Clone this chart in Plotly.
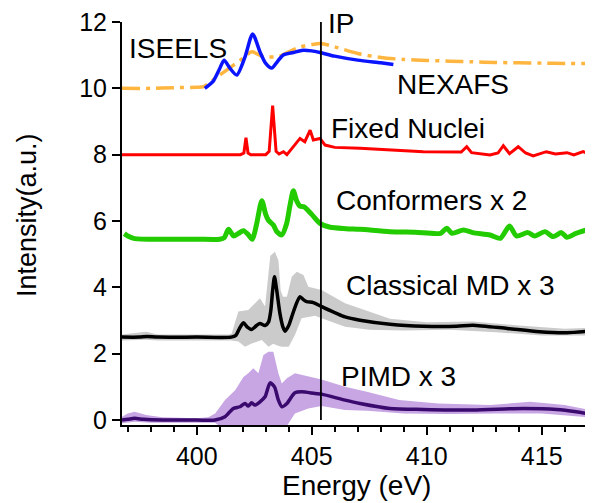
import plotly.graph_objects as go

# ---------------- data ----------------
iseels_E = [400.35, 400.7, 401.0, 401.19, 401.45, 401.74, 402.1, 402.43, 402.75, 403.0, 403.26,
            403.5, 403.75, 404.2, 404.62, 405.0, 405.36, 406.0, 407.0, 408.0, 408.55]
iseels_v = [10.0, 10.2, 10.6, 10.85, 10.6, 10.4, 10.95, 11.64, 11.1, 10.75, 10.61,
            10.8, 11.0, 11.08, 11.15, 11.13, 11.08, 10.97, 10.85, 10.77, 10.72]

nexafs_E = [396.75, 398, 399, 400.0, 400.3, 400.8, 401.3, 401.9, 402.4, 402.9, 403.6, 404.0, 404.5,
            405.0, 405.4, 406.0, 407.0, 408.0, 409.0, 410.0, 411.0, 412.0, 413.0, 414.0, 415.0, 416.0, 417.1]
nexafs_v = [10.0, 10.0, 10.02, 10.03, 10.05, 10.3, 10.55, 10.85, 11.1, 10.95, 10.97, 11.1, 11.25,
            11.32, 11.35, 11.25, 11.05, 10.93, 10.87, 10.84, 10.82, 10.8, 10.78, 10.77, 10.76, 10.75, 10.75]

fixed_E = [396.75, 401.9, 402.05, 402.14, 402.23, 402.35, 403.0, 403.15, 403.3, 403.45, 403.58, 403.77,
           403.92, 404.1, 404.3, 404.49, 404.7, 404.93, 405.07, 405.36, 405.58, 406.0, 407.1, 408.5,
           409.85, 411.5, 411.74, 411.95, 412.75, 413.1, 413.33, 413.6, 413.98, 414.3, 414.63, 415.2,
           415.6, 416.1, 416.4, 416.8, 417.1]
fixed_v = [8.0, 8.0, 8.05, 8.51, 8.05, 8.0, 8.0, 8.1, 9.48, 8.1, 8.02, 8.09,
           8.0, 8.15, 8.35, 8.49, 8.39, 8.74, 8.44, 8.49, 8.29, 8.22, 8.19, 8.14,
           8.09, 8.08, 8.24, 8.06, 7.99, 8.05, 8.27, 8.03, 8.24, 8.05, 7.96, 8.09,
           8.02, 8.06, 7.99, 8.09, 8.02]

conf_E = [396.85, 397.0, 397.3, 398.5, 400.0, 401.0, 401.2, 401.38, 401.6, 401.8, 402.03, 402.25,
          402.42, 402.6, 402.83, 403.0, 403.11, 403.33, 403.48, 403.7, 403.9, 404.05, 404.2, 404.35,
          404.49, 404.66, 405.0, 405.36, 405.8, 406.5, 407.1, 408.4, 409.5, 410.6, 410.87, 411.1,
          411.6, 412.0, 412.75, 413.2, 413.6, 413.9, 414.4, 414.7, 415.14, 415.5, 415.86, 416.09,
          416.5, 417.03]
conf_v = [5.62, 5.55, 5.47, 5.45, 5.45, 5.45, 5.5, 5.75, 5.55, 5.62, 5.71, 5.58,
          5.45, 5.9, 6.61, 6.2, 6.03, 5.88, 5.68, 5.58, 5.9, 6.45, 6.91, 6.6,
          6.45, 6.43, 6.2, 5.93, 5.81, 5.77, 5.75, 5.68, 5.66, 5.63, 5.78, 5.63,
          5.73, 5.65, 5.58, 5.48, 5.85, 5.55, 5.65, 5.55, 5.68, 5.53, 5.65, 5.51,
          5.63, 5.75]

cmd_E = [396.75, 397.5, 397.83, 398.3, 400.0, 401.5, 401.7, 401.85, 402.03, 402.2, 402.39, 402.6,
         402.75, 402.97, 403.12, 403.22, 403.3, 403.38, 403.47, 403.62, 403.75, 403.84, 404.0, 404.13,
         404.3, 404.49, 404.65, 404.78, 405.07, 405.43, 406.45, 407.1, 408.4, 409.85, 411.3, 412.0,
         413.5, 414.9, 416.1, 417.1]
cmd_v = [2.5, 2.5, 2.52, 2.5, 2.5, 2.5, 2.55, 2.75, 2.93, 2.8, 2.73, 2.85,
         2.91, 2.85, 2.95, 3.3, 3.9, 4.32, 3.95, 3.2, 2.8, 2.68, 2.85, 3.11,
         3.45, 3.72, 3.62, 3.57, 3.54, 3.42, 3.11, 3.01, 2.89, 2.83, 2.83, 2.86,
         2.76, 2.66, 2.63, 2.68]

cmd_up_E = [396.75, 397.3, 397.8, 398.3, 401.4, 401.52, 401.81, 402.24, 402.61, 402.75, 402.97, 403.12,
            403.2, 403.4, 403.55, 403.65, 403.75, 403.92, 404.13, 404.35, 404.64, 404.85, 405.43, 406.45,
            407.1, 408.4, 410.0, 412.0, 414.0, 416.0, 417.1]
cmd_up_v = [2.58, 2.62, 2.66, 2.58, 2.58, 2.61, 3.27, 3.32, 3.57, 3.67, 3.42, 4.5,
            4.95, 5.07, 4.82, 3.9, 3.72, 3.72, 4.32, 4.47, 4.37, 4.02, 3.92, 3.52,
            3.37, 3.05, 2.95, 2.97, 2.85, 2.75, 2.78]
cmd_lo_E = [396.75, 397.8, 398.3, 401.5, 401.81, 402.1, 402.39, 402.83, 403.12, 403.33, 403.5, 403.7,
            404.0, 404.27, 404.56, 405.14, 405.43, 406.45, 407.5, 409.0, 411.0, 413.0, 415.0, 417.1]
cmd_lo_v = [2.4, 2.42, 2.4, 2.4, 2.37, 2.21, 2.31, 2.41, 2.21, 2.3, 2.25, 2.21,
            2.21, 2.56, 3.07, 3.14, 3.07, 2.81, 2.72, 2.7, 2.72, 2.65, 2.55, 2.55]

pimd_E = [396.75, 397.0, 397.3, 397.7, 398.5, 400.0, 400.8, 401.23, 401.59, 401.88, 402.1, 402.24,
          402.39, 402.53, 402.75, 402.97, 403.19, 403.38, 403.55, 403.7, 403.92, 404.27, 404.56,
          405.14, 405.43, 406.45, 407.1, 408.4, 409.85, 412.0, 414.2, 415.65, 416.5, 417.1]
pimd_v = [0.0, 0.02, 0.05, 0.02, 0.0, 0.0, 0.0, 0.1, 0.35, 0.4, 0.5, 0.42,
          0.52, 0.45, 0.55, 0.7, 1.12, 1.0, 0.6, 0.4, 0.5, 0.82, 0.85,
          0.8, 0.78, 0.6, 0.5, 0.35, 0.32, 0.3, 0.35, 0.32, 0.25, 0.18]

pimd_up_E = [396.75, 397.0, 397.3, 397.8, 398.5, 400.0, 400.5, 400.8, 401.23, 401.67, 402.03, 402.24,
             402.46, 402.68, 402.9, 403.12, 403.33, 403.55, 403.7, 403.92, 404.27, 404.85, 405.43,
             406.45, 407.4, 408.8, 410.5, 412.75, 414.5, 416.0, 417.1]
pimd_up_v = [0.1, 0.2, 0.25, 0.15, 0.08, 0.05, 0.08, 0.2, 0.6, 0.9, 1.3, 1.41,
             1.56, 1.41, 1.96, 2.06, 2.06, 1.41, 1.1, 1.26, 1.41, 1.31, 1.22,
             1.0, 0.85, 0.6, 0.5, 0.45, 0.55, 0.45, 0.3]
pimd_lo_E = [396.75, 397.3, 398.0, 400.0, 400.8, 401.0, 403.9, 404.27, 404.85, 405.43, 406.45, 407.4,
             409.0, 411.0, 413.0, 415.0, 417.1]
pimd_lo_v = [-0.1, -0.05, -0.08, -0.08, -0.08, -0.2, -0.2, 0.2, 0.35, 0.42, 0.3, 0.28,
             0.2, 0.18, 0.2, 0.2, 0.08]

ip_energy = 405.4
y_ticks = [0, 2, 4, 6, 8, 10, 12]
x_ticks = [400, 405, 410, 415]

labels = [("ISEELS", 396.95, 11.21), ("NEXAFS", 408.6, 10.13), ("Fixed Nuclei", 405.75, 8.8),
          ("Conformers x 2", 405.95, 6.63), ("Classical MD x 3", 406.4, 4.07),
          ("PIMD x 3", 406.2, 1.31), ("IP", 405.62, 11.97)]

FONT = "Arial, Liberation Sans, sans-serif"

fig = go.Figure()

def band(up_E, up_v, lo_E, lo_v, color):
    fig.add_trace(go.Scatter(x=up_E + lo_E[::-1], y=up_v + lo_v[::-1], fill="toself",
                             fillcolor=color, line=dict(width=0), mode="lines",
                             hoverinfo="skip", showlegend=False))

def curve(E, v, color, width, dash="solid", shape="spline"):
    fig.add_trace(go.Scatter(x=E, y=v, mode="lines", showlegend=False,
                             line=dict(color=color, width=width, dash=dash, shape=shape, smoothing=0.7)))

band(cmd_up_E, cmd_up_v, cmd_lo_E, cmd_lo_v, "#cbcbcb")
curve(cmd_E, cmd_v, "#000000", 3.5)
band(pimd_up_E, pimd_up_v, pimd_lo_E, pimd_lo_v, "#c7a6e3")
curve(pimd_E, pimd_v, "#3a0a6e", 3.5)
curve(conf_E, conf_v, "#22cc00", 5)
curve(fixed_E, fixed_v, "#ff0000", 3, shape="linear")
curve(nexafs_E, nexafs_v, "#ffb640", 3.5, dash="18px,6px,4px,6px")
curve(iseels_E, iseels_v, "#0a14ff", 3.5)

fig.add_shape(type="line", xref="x", yref="y", x0=ip_energy, x1=ip_energy, y0=0, y1=12,
              line=dict(color="black", width=1.8))

for txt, xe, yv in labels:
    fig.add_annotation(x=xe, y=yv, xref="x", yref="y", text=txt, showarrow=False,
                       xanchor="left", yanchor="middle", font=dict(family=FONT, size=28, color="black"))

fig.add_annotation(xref="paper", yref="paper", x=0.502, y=0, yshift=-60, text="Energy (eV)",
                   showarrow=False, xanchor="center", yanchor="middle",
                   font=dict(family=FONT, size=28, color="black"))
fig.add_annotation(xref="paper", yref="paper", x=0, xshift=-95, y=0.521, text="Intensity(a.u.)",
                   showarrow=False, xanchor="center", yanchor="middle", textangle=-90,
                   font=dict(family=FONT, size=27, color="black"))

# the page body adds an 8px offset, so the figure is drawn 8px smaller
fig.update_layout(
    width=585, height=495,
    margin=dict(l=114, r=3, t=14, b=78, autoexpand=False),
    plot_bgcolor="white", paper_bgcolor="white",
    font=dict(family=FONT, size=25, color="black"),
    showlegend=False,
    xaxis=dict(range=[396.75, 417.1], tickvals=x_ticks, ticks="outside", ticklen=8, tickwidth=1.5,
               tickcolor="black", showline=True, linecolor="black", linewidth=2, showgrid=False,
               zeroline=False, tickfont=dict(size=25), automargin=False, ticklabeloverflow="allow",
               minor=dict(ticks="outside", dtick=1, tick0=400, ticklen=5, tickwidth=1.5,
                          tickcolor="black", showgrid=False)),
    yaxis=dict(range=[-0.15, 12], tickvals=y_ticks, ticks="outside", ticklen=8, tickwidth=1.5,
               tickcolor="black", showline=True, linecolor="black", linewidth=2, showgrid=False,
               zeroline=False, tickfont=dict(size=25), automargin=False, ticklabeloverflow="allow"),
)

fig.write_html("out.html")
